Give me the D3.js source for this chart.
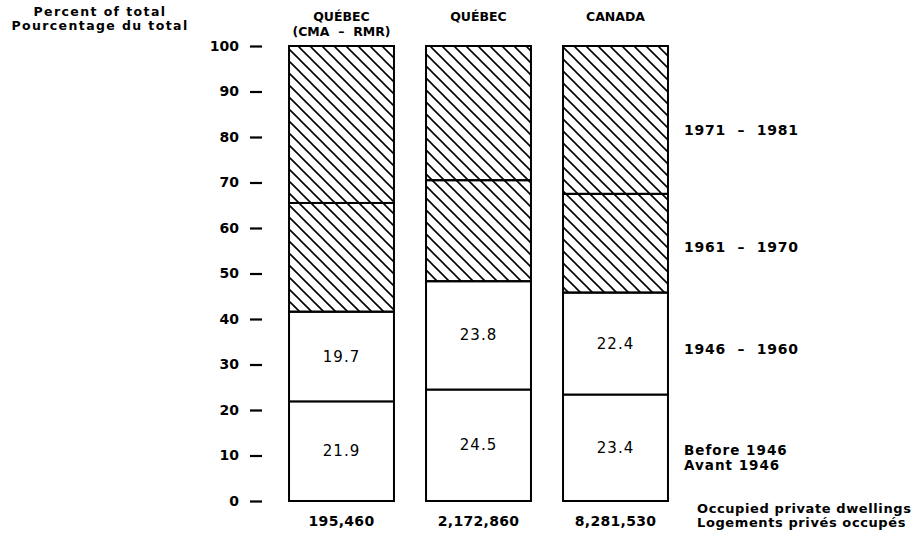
<!DOCTYPE html>
<html>
<head>
<meta charset="utf-8">
<script src="https://cdn.jsdelivr.net/npm/d3@7"></script>
<style>
  body { margin: 0; background: #fff; }
  svg text { font-family: "DejaVu Sans", "Liberation Sans", sans-serif; fill: #000; white-space: pre; }
</style>
</head>
<body>
<svg id="chart" width="919" height="535"></svg>
<script>
// Occupied private dwellings by period of construction, percent of total
const regions = ["QUÉBEC (CMA – RMR)", "QUÉBEC", "CANADA"];
const regionTitles = [["QUÉBEC", "(CMA  –  RMR)"], ["QUÉBEC"], ["CANADA"]];
const totals = ["195,460", "2,172,860", "8,281,530"];
const periods = ["Before 1946", "1946 – 1960", "1961 – 1970", "1971 – 1981"];
const before1946 = [21.9, 24.5, 23.4];
const p1946_1960 = [19.7, 23.8, 22.4];
const p1961_1970 = [23.9, 22.2, 21.7];
const p1971_1981 = [34.5, 29.5, 32.5];
const yTicks = [0, 10, 20, 30, 40, 50, 60, 70, 80, 90, 100];

const svg = d3.select("#chart");

const x = d3.scaleBand().domain(regions).range([273, 684]).paddingInner(0.234).paddingOuter(0.117);
const y = d3.scaleLinear().domain([0, 100]).range([501, 46]);

// diagonal hatch for post-1960 construction
const defs = svg.append("defs");
const pat = defs.append("pattern")
  .attr("id", "hatch").attr("patternUnits", "userSpaceOnUse")
  .attr("width", 12).attr("height", 12);
pat.append("path")
  .attr("d", "M-2,-2L14,14M10,-2L14,2M-2,10L2,14")
  .attr("stroke", "#000").attr("stroke-width", 1.6);

const table = regions.map((r, i) => ({
  region: r,
  "Before 1946": before1946[i],
  "1946 – 1960": p1946_1960[i],
  "1961 – 1970": p1961_1970[i],
  "1971 – 1981": p1971_1981[i]
}));
const stacked = d3.stack().keys(periods)(table);
const hatched = new Set(["1961 – 1970", "1971 – 1981"]);

const layers = svg.append("g").selectAll("g").data(stacked).join("g");
layers.selectAll("rect").data(d => d.map(v => ({ key: d.key, v })))
  .join("rect")
  .attr("x", d => x(d.v.data.region))
  .attr("width", x.bandwidth())
  .attr("y", d => y(d.v[1]))
  .attr("height", d => y(d.v[0]) - y(d.v[1]))
  .attr("fill", d => hatched.has(d.key) ? "url(#hatch)" : "#fff")
  .attr("stroke", "#000").attr("stroke-width", 2);

// values inside the unhatched segments
stacked.filter(s => !hatched.has(s.key)).forEach(s => {
  svg.append("g").selectAll("text").data(s).join("text")
    .attr("x", d => x(d.data.region) + x.bandwidth() / 2)
    .attr("y", d => y((d[0] + d[1]) / 2) + 5)
    .attr("text-anchor", "middle")
    .attr("font-size", 15).attr("letter-spacing", 1)
    .text(d => (d[1] - d[0]).toFixed(1));
});

// y axis: labels followed by a dash
const yAxis = svg.append("g").attr("transform", "translate(262,0)")
  .call(d3.axisLeft(y).tickValues(yTicks).tickSize(12).tickPadding(11));
yAxis.select(".domain").remove();
yAxis.selectAll(".tick line").attr("stroke", "#000").attr("stroke-width", 2.2);
yAxis.selectAll(".tick text")
  .attr("font-family", "DejaVu Sans, sans-serif")
  .attr("font-size", 14).attr("font-weight", "bold").attr("fill", "#000");

// region titles above the bars, totals below
regions.forEach((r, i) => {
  const cx = x(r) + x.bandwidth() / 2;
  regionTitles[i].forEach((t, j) => {
    svg.append("text").attr("x", cx).attr("y", 21 + j * 15)
      .attr("text-anchor", "middle").attr("font-size", 12.5).attr("font-weight", "bold")
      .text(t);
  });
  svg.append("text").attr("x", cx).attr("y", 526)
    .attr("text-anchor", "middle").attr("font-size", 14).attr("font-weight", "bold")
    .attr("letter-spacing", 0.3)
    .text(totals[i]);
});

// y axis title
[["Percent of total", 16], ["Pourcentage du total", 30]].forEach(([t, yy]) => {
  svg.append("text").attr("x", 100).attr("y", yy)
    .attr("text-anchor", "middle").attr("font-size", 12.5).attr("font-weight", "bold")
    .attr("letter-spacing", 1.4).text(t);
});

// period labels to the right of the Canada bar
const labelX = 684;
const periodLabelY = { "1946 – 1960": 354, "1961 – 1970": 252, "1971 – 1981": 135 };
periods.forEach(p => {
  if (p === "Before 1946") {
    [["Before 1946", 455], ["Avant 1946", 470]].forEach(([t, yy]) => {
      svg.append("text").attr("x", labelX).attr("y", yy)
        .attr("font-size", 13.5).attr("font-weight", "bold").attr("letter-spacing", 1)
        .text(t);
    });
  } else {
    svg.append("text").attr("x", labelX).attr("y", periodLabelY[p])
      .attr("font-size", 14).attr("font-weight", "bold").attr("letter-spacing", 0.8)
      .text(p.replace(" – ", "  –  "));
  }
});

// unit note
[["Occupied private dwellings", 513], ["Logements privés occupés", 527]].forEach(([t, yy]) => {
  svg.append("text").attr("x", 697).attr("y", yy)
    .attr("font-size", 13).attr("font-weight", "bold").attr("letter-spacing", 0.6).text(t);
});
</script>
</body>
</html>
